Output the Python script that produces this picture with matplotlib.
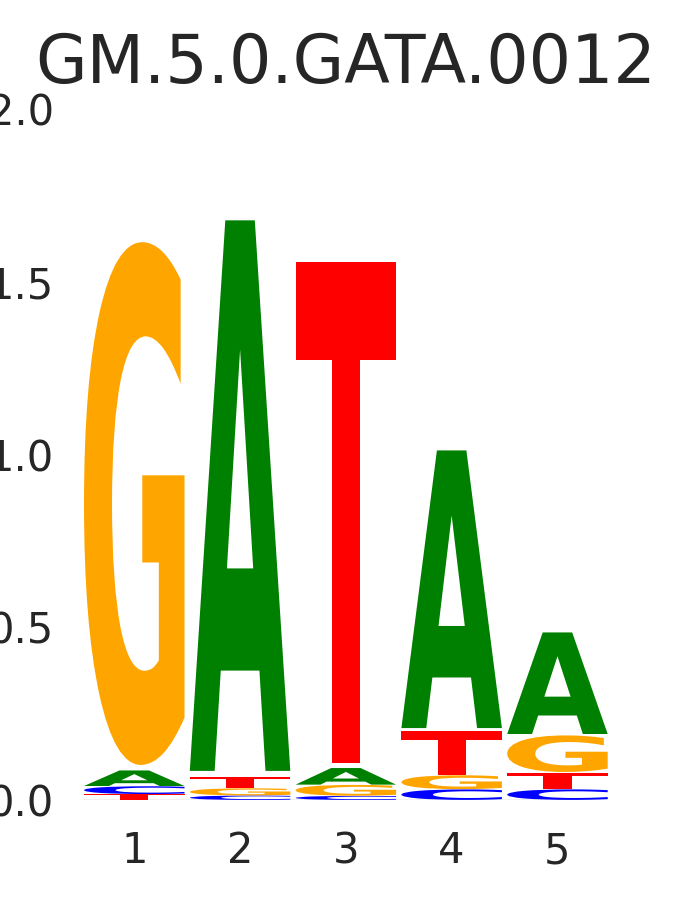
import matplotlib
matplotlib.use("Agg")
import matplotlib.pyplot as plt
from matplotlib.textpath import TextPath
from matplotlib.patches import PathPatch
from matplotlib.font_manager import FontProperties
from matplotlib.transforms import Affine2D

# information content (bits) per letter at each motif position
positions = [1, 2, 3, 4, 5]
a_bits = [0.046, 1.626, 0.049, 0.820, 0.300]
c_bits = [0.023, 0.013, 0.012, 0.031, 0.031]
g_bits = [1.544, 0.021, 0.032, 0.041, 0.108]
t_bits = [0.017, 0.034, 1.478, 0.128, 0.049]

yticks = [0.0, 0.5, 1.0, 1.5, 2.0]
title = "GM.5.0.GATA.0012"

# classic nucleotide colours
colors = {"A": "#008000", "C": "#0000ff", "G": "#ffa500", "T": "#ff0000"}
text_color = "#262626"

glyph_font = FontProperties(family="DejaVu Sans", weight="bold")


def draw_glyph(ax, char, x, floor, height, color, width=0.95, vpad=0.02):
    # stretch the letter outline so it fills its box
    path = TextPath((0, 0), char, size=1, prop=glyph_font)
    ext = path.get_extents()
    h = height * (1 - vpad)
    tr = (Affine2D()
          .translate(-ext.x0, -ext.y0)
          .scale(width / ext.width, h / ext.height)
          .translate(x - width / 2, floor + height * vpad / 2))
    patch = PathPatch(tr.transform_path(path), facecolor=color,
                      edgecolor="none", linewidth=0)
    ax.add_patch(patch)


fig = plt.figure(figsize=(6.75, 9), dpi=100)
ax = fig.add_axes([84 / 675, 100 / 900, (607.7 - 84) / 675, (800 - 109) / 900])

for i, pos in enumerate(positions):
    col = {"A": a_bits[i], "C": c_bits[i], "G": g_bits[i], "T": t_bits[i]}
    floor = 0.0
    # smallest letters at the bottom
    for char, h in sorted(col.items(), key=lambda kv: kv[1]):
        draw_glyph(ax, char, pos, floor, h, colors[char])
        floor += h

ax.axhline(0, color="k", linewidth=0.8, zorder=0)

ax.set_xlim(positions[0] - 0.475, positions[-1] + 0.475)
ax.set_ylim(0, 2.0)
ax.set_xticks(positions)
ax.set_xticklabels([str(p) for p in positions])
ax.set_yticks(yticks)
ax.set_yticklabels([f"{v:.1f}" for v in yticks])
for s in ax.spines.values():
    s.set_visible(False)
ax.tick_params(length=0, pad=21.6, labelsize=30, labelcolor=text_color)

ax.set_title(title, fontsize=48, color=text_color, pad=18.5)

fig.savefig("out.png", dpi=100)
